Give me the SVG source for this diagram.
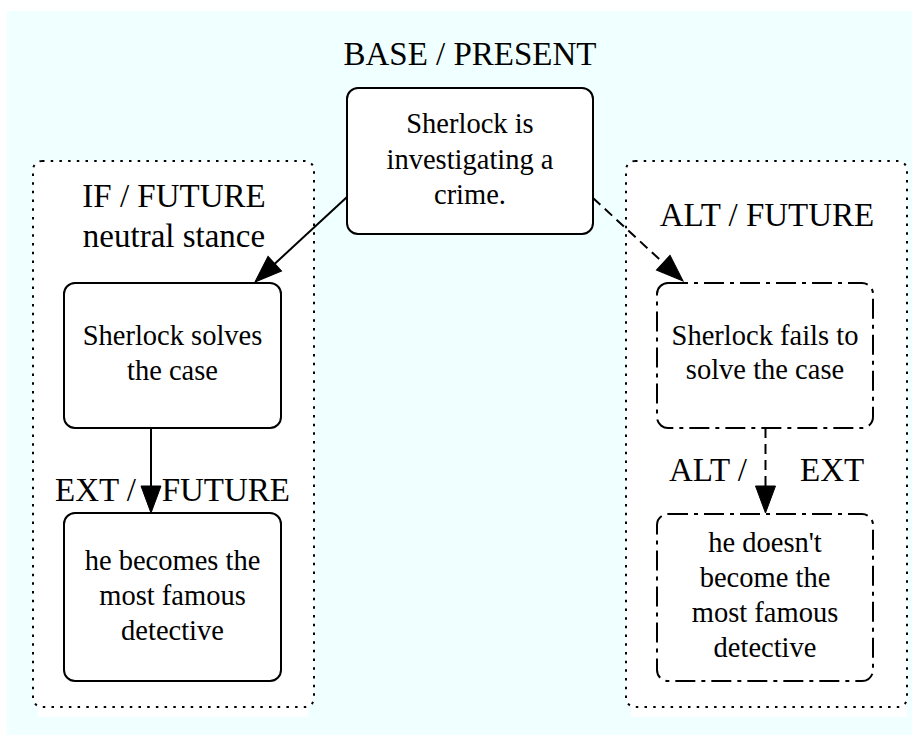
<svg xmlns="http://www.w3.org/2000/svg" width="919" height="742" viewBox="0 0 919 742">
<style>
text{font-family:"Liberation Serif","Times New Roman",serif;fill:#000}
.lbl{font-size:33px}
.nt{font-size:28.5px;text-anchor:middle}
.c{text-anchor:middle}
.node{fill:#fff;stroke:#000;stroke-width:2}
.dd{stroke-dasharray:20,6,4,6}
.cl{fill:#fff;stroke:#000;stroke-width:2;stroke-dasharray:2.5,6.2}
.e{fill:none;stroke:#000;stroke-width:2}
.dash{stroke-dasharray:10,6}
</style>
<defs>
<marker id="ah" markerUnits="userSpaceOnUse" markerWidth="32" markerHeight="24" viewBox="0 -12 32 24" refX="0" refY="0" orient="auto" overflow="visible">
<path d="M0,-10 L27,0 L0,10 Z" fill="#000" stroke="#000" stroke-width="1"/>
</marker>
</defs>
<rect x="7" y="11" width="905" height="724" fill="#f0ffff"/>
<text class="lbl c" x="470" y="65">BASE / PRESENT</text>
<g id="cluster_if">
<rect x="38" y="170" width="270" height="547" fill="#fff"/>
<rect class="cl" x="33" y="161" width="281" height="546" rx="9"/>
<text class="lbl c" x="174" y="207">IF / FUTURE</text>
<text class="lbl c" x="174" y="246.5">neutral stance</text>
</g>
<g id="cluster_alt">
<rect x="631" y="170" width="276" height="547" fill="#fff"/>
<rect class="cl" x="626" y="161" width="281" height="546" rx="9"/>
<text class="lbl c" x="767" y="226">ALT / FUTURE</text>
</g>
<g id="base">
<rect class="node" x="347" y="88" width="246" height="146" rx="11"/>
<text class="nt" x="470" y="133">Sherlock is</text>
<text class="nt" x="470" y="168.5">investigating a</text>
<text class="nt" x="470" y="204">crime.</text>
</g>
<g id="if_solve">
<rect class="node" x="64" y="283" width="217" height="145" rx="11"/>
<text class="nt" x="172.5" y="345">Sherlock solves</text>
<text class="nt" x="172.5" y="380">the case</text>
</g>
<g id="if_famous">
<rect class="node" x="64" y="513" width="217" height="168" rx="11"/>
<text class="nt" x="172.5" y="570">he becomes the</text>
<text class="nt" x="172.5" y="605">most famous</text>
<text class="nt" x="172.5" y="640">detective</text>
</g>
<g id="alt_fail">
<rect class="node dd" x="657" y="283" width="216" height="145" rx="11"/>
<text class="nt" x="765" y="345">Sherlock fails to</text>
<text class="nt" x="765" y="379">solve the case</text>
</g>
<g id="alt_notfamous">
<rect class="node dd" x="657" y="514" width="216" height="167" rx="11"/>
<text class="nt" x="765" y="552">he doesn't</text>
<text class="nt" x="765" y="587">become the</text>
<text class="nt" x="765" y="622">most famous</text>
<text class="nt" x="765" y="657">detective</text>
</g>
<g id="connectors">
<path class="e" d="M347,197 L274.8,263.7" marker-end="url(#ah)"/>
<path class="e dash" d="M593,198 L663.2,262.7" marker-end="url(#ah)"/>
<path class="e" d="M151,428 L151,486" marker-end="url(#ah)"/>
<path class="e dash" d="M765.5,428 L765.5,486" marker-end="url(#ah)"/>
<text class="lbl" y="500.5"><tspan x="55">EXT /</tspan><tspan x="161.7">FUTURE</tspan></text>
<text class="lbl" y="480.5"><tspan x="669">ALT /</tspan><tspan x="800">EXT</tspan></text>
</g>
</svg>
